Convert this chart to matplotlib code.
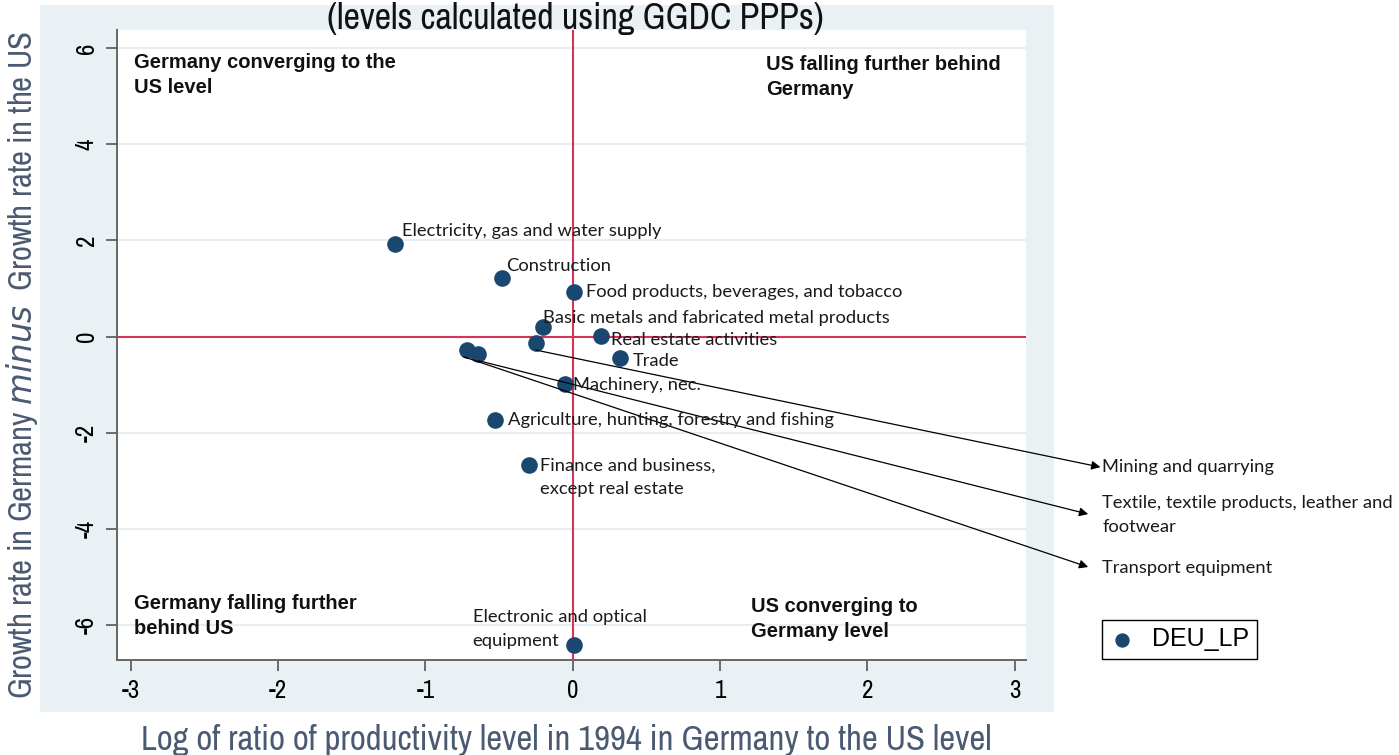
import matplotlib
matplotlib.use("Agg")
import matplotlib.pyplot as plt
from matplotlib.patches import Rectangle

# Данные: сектор, лог. отношение производительности, разница темпов роста
sectors = [
    "Electricity, gas and water supply",
    "Construction",
    "Food products, beverages, and tobacco",
    "Basic metals and fabricated metal products",
    "Real estate activities",
    "Mining and quarrying",
    "Transport equipment",
    "Textile, textile products, leather and\nfootwear",
    "Trade",
    "Machinery, nec.",
    "Agriculture, hunting, forestry and fishing",
    "Finance and business,\nexcept real estate",
    "Electronic and optical\nequipment",
]
log_ratio = [-1.21, -0.48, 0.01, -0.20, 0.19, -0.25, -0.72, -0.64, 0.32, -0.05, -0.53, -0.30, 0.01]
growth_diff = [1.92, 1.22, 0.92, 0.20, 0.01, -0.14, -0.28, -0.36, -0.45, -0.99, -1.74, -2.67, -6.41]

# Смещения подписей (в единицах данных)
label_dx = [0.05, 0.03, 0.08, 0.0, 0.07, None, None, None, 0.09, 0.05, 0.09, 0.08, -0.69]
label_dy = [0.27, 0.25, 0.0, 0.19, -0.08, None, None, None, -0.05, -0.02, 0.0, -0.26, 0.34]

# Подписи со стрелками справа за пределами графика: (конец стрелки x, y, текст x, y)
arrow_targets = {
    "Mining and quarrying": (3.583, -2.713, 3.597, -2.71),
    "Textile, textile products, leather and\nfootwear": (3.50, -3.69, 3.597, -3.71),
    "Transport equipment": (3.50, -4.79, 3.597, -4.81),
}
arrow_start_dx = {"Mining and quarrying": 0.0,
                  "Textile, textile products, leather and\nfootwear": 0.0,
                  "Transport equipment": -0.02}

navy = "#1a476f"
red = "#d6335a"
label_color = "#4a5a72"
panel_color = "#eaf1f4"
narrow = ["Archivo Narrow", "DejaVu Sans"]

fig = plt.figure(figsize=(13.99, 7.55), dpi=100)
fig.patch.set_facecolor("white")
fig.add_artist(Rectangle((0.0286, 0.057), 0.725, 0.936, transform=fig.transFigure,
                         facecolor=panel_color, edgecolor="none", zorder=0))

ax = fig.add_axes([0.0836, 0.126, 0.650, 0.834])
ax.set_facecolor("white")
ax.set_xlim(-3.095, 3.08)
ax.set_ylim(-6.72, 6.37)

for yv in [-6, -4, -2, 2, 4, 6]:
    ax.axhline(yv, color="#e6eef2", lw=1.5, zorder=0)
ax.axhline(0, color=red, lw=1.5, zorder=1)
ax.axvline(0, color=red, lw=1.5, zorder=1)

ax.scatter(log_ratio, growth_diff, s=120, color=navy, zorder=3, label="DEU_LP")

lab_font = dict(family=["Lato", "DejaVu Sans"], fontsize=13.2, color="#1a1a1a")
for i, name in enumerate(sectors):
    if name in arrow_targets:
        ex, ey, tx, ty = arrow_targets[name]
        ax.annotate("", xy=(ex, ey),
                    xytext=(log_ratio[i] + arrow_start_dx[name], growth_diff[i] - 0.14),
                    annotation_clip=False,
                    arrowprops=dict(arrowstyle="-|>", color="black", lw=0.9,
                                    shrinkA=0, shrinkB=0, mutation_scale=13))
        ax.text(tx, ty, name, ha="left", va="center", linespacing=1.6,
                clip_on=False, **lab_font)
    else:
        ax.text(log_ratio[i] + label_dx[i], growth_diff[i] + label_dy[i], name,
                ha="left", va="center", zorder=4, linespacing=1.6, **lab_font)

quad_font = dict(family=["Liberation Sans", "DejaVu Sans"], fontsize=14.5,
                 fontweight="bold", color="#111111", va="center", ha="left")
ax.text(-2.98, 5.44, "Germany converging to the\nUS level", linespacing=1.4, **quad_font)
ax.text(1.31, 5.39, "US falling further behind\nGermany", linespacing=1.4, **quad_font)
ax.text(-2.98, -5.8, "Germany falling further\nbehind US", linespacing=1.4, **quad_font)
ax.text(1.21, -5.88, "US converging to\nGermany level", linespacing=1.4, **quad_font)

ax.set_xticks([-3, -2, -1, 0, 1, 2, 3])
ax.set_yticks([-6, -4, -2, 0, 2, 4, 6])
ax.set_xticklabels(["-3", "-2", "-1", "0", "1", "2", "3"], family=narrow, fontsize=18)
ax.set_yticklabels(["-6", "-4", "-2", "0", "2", "4", "6"], family=narrow, fontsize=18,
                   rotation=90, va="center")
ax.tick_params(direction="out", length=8, width=1.2, color="#555555", pad=6)
for side in ["top", "right"]:
    ax.spines[side].set_visible(False)
for side in ["left", "bottom"]:
    ax.spines[side].set_color("#666666")
    ax.spines[side].set_linewidth(1.4)

fig.text(0.411, 0.976, "(levels calculated using GGDC PPPs)", ha="center", va="center",
         family=narrow, fontsize=26, color="#111111")
fig.text(0.405, 0.020, "Log of ratio of productivity level in 1994 in Germany to the US level",
         ha="center", va="center", family=narrow, fontsize=25, color=label_color)
fig.text(0.016, 0.516,
         "Growth rate in Germany $\\mathit{minus}$  Growth rate in the US",
         ha="center", va="center", rotation=90, family=narrow, fontsize=23.5,
         color=label_color)

fig.legend(loc="upper left", bbox_to_anchor=(0.7877, 0.179),
           prop=dict(family=["Liberation Sans", "DejaVu Sans"], size=18),
           frameon=True, fancybox=False, edgecolor="black", framealpha=1,
           handletextpad=0.7, borderpad=0.3, handlelength=1.0, borderaxespad=0,
           markerscale=0.85)

fig.savefig("out.png", dpi=100)
